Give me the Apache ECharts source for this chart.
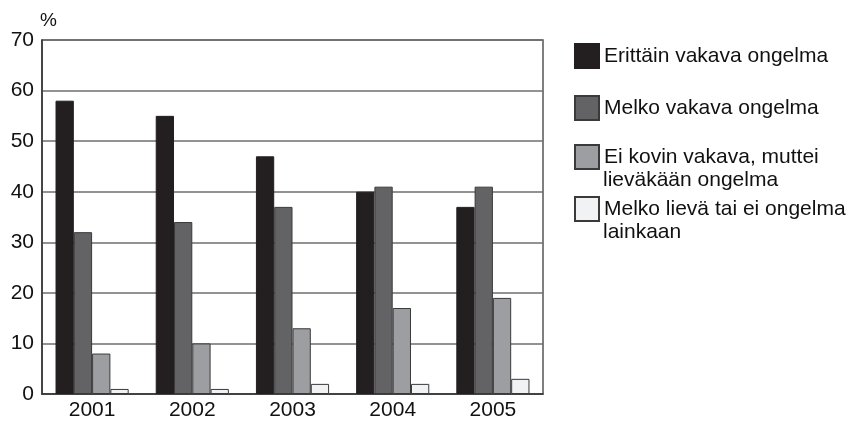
<!DOCTYPE html>
<html><head><meta charset="utf-8">
<script src="https://cdn.jsdelivr.net/npm/echarts@6/dist/echarts.min.js"></script>
<style>html,body{margin:0;padding:0;background:#fff}#c{width:851px;height:421px}</style>
</head><body><div id="c"></div>
<script>
const years = ['2001','2002','2003','2004','2005'];
const seriesNames = ['Erittäin vakava ongelma','Melko vakava ongelma','Ei kovin vakava, muttei lieväkään ongelma','Melko lievä tai ei ongelma lainkaan'];
const legendLines = [['Erittäin vakava ongelma'],['Melko vakava ongelma'],['Ei kovin vakava, muttei','lieväkään ongelma'],['Melko lievä tai ei ongelma','lainkaan']];
const erittainVakava = [58, 55, 47, 40, 37];
const melkoVakava = [32, 34, 37, 41, 41];
const eiKovinVakava = [8, 10, 13, 17, 19];
const melkoLieva = [1, 1, 2, 2, 3];
const yTicks = [0, 10, 20, 30, 40, 50, 60, 70];

const colors = ['#231f20', '#636265', '#9d9ea2', '#f1f2f4'];
const values = [erittainVakava, melkoVakava, eiKovinVakava, melkoLieva];
const font = 'Liberation Sans, Arial, sans-serif';
const legendTops = [43, 95, 144, 196];

const chart = echarts.init(document.getElementById('c'), null, {renderer: 'canvas'});
const legends = seriesNames.map((n, i) => ({
  data: [n], left: 574, top: legendTops[i], orient: 'vertical', padding: 0,
  itemWidth: 24, itemHeight: 24, itemGap: 0, selectedMode: false,
  formatter: () => legendLines[i][0],
  textStyle: {fontFamily: font, fontSize: 21, color: '#111'},
  icon: 'rect'
}));
const extraText = [];
legendLines.forEach((lines, i) => {
  if (lines.length > 1) {
    extraText.push({type: 'text', x: 603, y: legendTops[i] + 12 + 24,
      style: {text: lines[1], font: '21px ' + font, fill: '#111', verticalAlign: 'middle'}});
  }
});
extraText.push({type: 'text', left: 40, top: 11, style: {text: '%', font: '19px ' + font, fill: '#111'}});

chart.setOption({
  animation: false,
  grid: {left: 42, right: 308, top: 40, bottom: 24, show: true, borderColor: '#555', borderWidth: 1.5, containLabel: false},
  legend: legends,
  graphic: extraText,
  xAxis: {type: 'category', data: years,
    axisLine: {lineStyle: {color: '#333', width: 1.5}},
    axisTick: {show: false},
    axisLabel: {fontFamily: font, fontSize: 21, color: '#111', margin: 6}},
  yAxis: {type: 'value', min: 0, max: 70, interval: 10,
    axisLine: {show: true, lineStyle: {color: '#333', width: 1.5}},
    axisTick: {show: false},
    splitLine: {lineStyle: {color: '#6e6e6e', width: 1.5}},
    axisLabel: {fontFamily: font, fontSize: 21, color: '#111', margin: 8,
      formatter: v => yTicks.includes(v) ? String(v) : ''}},
  series: seriesNames.map((n, i) => ({
    name: n, type: 'bar', data: values[i],
    barGap: '0%', barCategoryGap: '27%',
    itemStyle: {color: colors[i], borderColor: i === 0 ? '#231f20' : '#3a3a3a', borderWidth: 1}
  }))
});
</script></body></html>
